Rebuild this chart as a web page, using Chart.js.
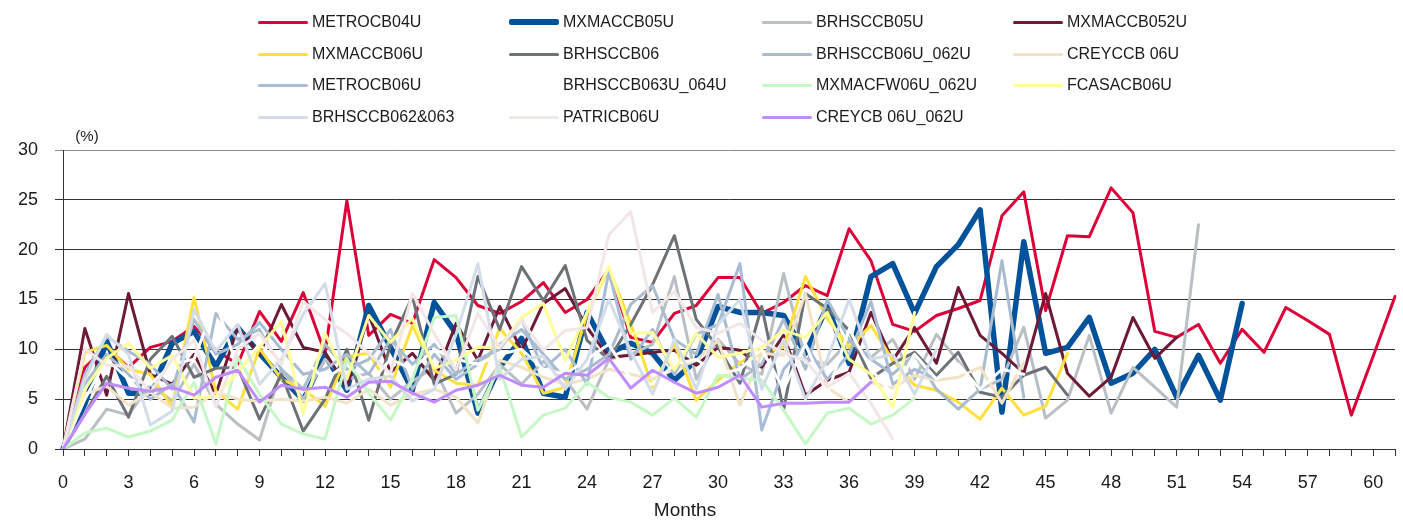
<!DOCTYPE html>
<html>
<head>
<meta charset="utf-8">
<script src="https://cdn.jsdelivr.net/npm/chart.js@4.4.1/dist/chart.umd.min.js"></script>
<style>
  html, body { margin: 0; padding: 0; background: #fff; }
  #wrap { position: relative; width: 1403px; height: 520px; }
  #legend {
    position: absolute; left: 0; top: 0; width: 1403px; height: 140px;
    font-family: 'Liberation Sans', Arial, sans-serif; font-size: 16px; color: #1a1a1a;
  }
  .item { position: absolute; height: 24px; display: flex; align-items: center; white-space: nowrap; }
  .swatch { width: 50px; margin-right: 4px; border-radius: 2px; }
</style>
</head>
<body>
<div id="wrap">
  <canvas id="chart" width="1403" height="520"></canvas>
  <div id="legend"></div>
</div>
<script>
'use strict';

// x categories (months since issue) and the ones that get a label
const months = [0, 1, 2, 3, 4, 5, 6, 7, 8, 9, 10, 11, 12, 13, 14, 15, 16, 17, 18, 19, 20,
  21, 22, 23, 24, 25, 26, 27, 28, 29, 30, 31, 32, 33, 34, 35, 36, 37, 38, 39, 40,
  41, 42, 43, 44, 45, 46, 47, 48, 49, 50, 51, 52, 53, 54, 55, 56, 57, 58, 59, 60, 61];
const labelledMonths = [0, 3, 6, 9, 12, 15, 18, 21, 24, 27, 30, 33, 36, 39, 42, 45, 48, 51, 54, 57, 60];
const yTicks = [0, 5, 10, 15, 20, 25, 30];
const unitLabel = '(%)';
const xTitle = 'Months';

// values in %, one per month starting at month 0
const metrocb04u = [0, 8.2, 10.2, 8.2, 10.2, 10.8, 12.3, 9.9, 8.5, 13.8, 10.8, 15.7, 9.6, 24.9, 11.4, 13.5,
  12.6, 19.0, 17.2, 14.4, 13.6, 14.8, 16.7, 13.7, 15.0, 18.0, 11.2, 10.7, 13.6, 14.4, 17.2, 17.2, 13.6,
  14.7, 16.4, 15.4, 22.1, 18.9, 12.5, 11.8, 13.4, 14.1, 14.9, 23.4, 25.8, 13.9, 21.4, 21.3, 26.2, 23.7,
  11.8, 11.2, 12.5, 8.6, 12.0, 9.7, 14.2, 12.9, 11.5, 3.4, 9.3, 15.3];
const mxmaccb05u = [0, 4.5, 10.8, 5.6, 5.6, 10.6, 11.8, 8.3, 12.2, 9.6, 7.2, 4.9, 9.4, 5.9, 14.4, 10.2,
  5.9, 14.7, 11.6, 3.6, 8.2, 11.1, 5.6, 5.2, 13.7, 9.6, 10.6, 9.6, 6.9, 8.9, 14.3, 13.7, 13.7, 13.4,
  9.6, 14.3, 8.6, 17.3, 18.6, 13.6, 18.3, 20.5, 24.0, 3.7, 20.8, 9.6, 10.2, 13.2, 6.6, 7.6, 10.0, 5.2,
  9.4, 4.9, 14.6];
const brhsccb05u = [0, 1.0, 4.0, 3.4, 6.5, 4.8, 8.5, 4.5, 2.5, 0.9, 8.0, 5.0, 9.0, 7.0, 7.6, 5.0, 6.8,
  8.2, 3.6, 5.5, 8.5, 6.5, 8.8, 7.0, 4.0, 9.0, 9.5, 10.5, 17.3, 7.0, 11.0, 8.5, 7.5, 17.6, 9.0, 8.5,
  10.8, 9.2, 11.0, 7.0, 11.5, 8.8, 6.0, 7.0, 12.2, 3.1, 4.9, 11.4, 3.6, 8.2, 6.2, 4.2, 22.5];
const mxmaccb052u = [0, 12.1, 5.4, 15.6, 7.5, 6.5, 9.5, 5.5, 12.2, 9.5, 14.5, 10.2, 9.7, 6.2, 13.5, 7.7,
  9.6, 6.9, 12.6, 8.9, 14.3, 9.9, 14.6, 16.1, 12.2, 9.2, 9.4, 9.7, 9.9, 8.4, 10.2, 9.9, 8.2, 11.4, 5.4,
  6.9, 7.7, 13.7, 8.9, 12.2, 8.6, 16.2, 11.4, 9.6, 7.6, 15.6, 7.6, 5.3, 7.2, 13.2, 9.1, 11.2];
const mxmaccb06u = [0, 9.7, 10.4, 8.0, 7.5, 4.2, 15.2, 5.8, 4.0, 10.1, 7.0, 6.0, 4.3, 9.3, 9.6, 6.2, 12.4,
  7.9, 6.6, 6.4, 12.1, 9.6, 5.6, 6.2, 13.6, 18.1, 12.6, 6.2, 10.6, 4.9, 6.9, 8.7, 9.6, 10.2, 17.3, 13.1,
  10.2, 12.4, 8.9, 6.4, 5.9, 4.7, 3.0, 6.1, 3.4, 4.3, 9.6];
const brhsccb06 = [0, 3.5, 7.3, 3.2, 9.0, 11.3, 7.2, 8.1, 8.2, 3.0, 7.5, 1.8, 5.0, 10.0, 2.9, 10.5, 15.3,
  6.5, 7.5, 17.3, 12.0, 18.3, 14.9, 18.4, 10.9, 9.0, 12.5, 16.5, 21.4, 13.0, 10.2, 6.6, 14.3, 3.9, 15.6,
  14.1, 11.9, 7.1, 8.6, 9.7, 7.4, 9.7, 5.7, 5.2, 7.4, 8.2, 5.4];
const brhsccb06u062u = [0, 6.5, 9.5, 7.5, 5.0, 6.5, 2.7, 13.6, 11.0, 12.0, 8.0, 6.0, 10.5, 8.0, 9.0, 12.0,
  6.0, 9.5, 7.0, 8.5, 10.5, 12.0, 9.5, 7.0, 8.0, 9.5, 14.5, 16.4, 11.0, 9.5, 15.5, 7.0, 8.5, 13.0, 8.0,
  15.0, 11.0, 9.0, 7.5, 9.5, 6.0, 4.0, 6.0, 18.9, 5.2];
const creyccb06u = [0, 5.5, 6.3, 4.4, 5.7, 4.1, 4.2, 5.7, 5.0, 4.8, 5.0, 4.8, 5.2, 4.6, 6.0, 4.4, 5.5, 6.0,
  5.2, 2.6, 8.9, 8.2, 7.2, 6.5, 7.0, 8.0, 7.5, 7.0, 8.0, 8.9, 10.9, 4.4, 9.6, 9.4, 15.6, 6.2, 4.7, 6.7,
  6.1, 7.4, 6.9, 7.2, 8.2, 4.6, 8.7];
const metrocb06u = [0, 7.5, 11.3, 9.8, 8.5, 6.0, 13.0, 9.5, 10.5, 12.7, 10.0, 7.5, 8.0, 9.5, 7.5, 11.0,
  8.5, 10.5, 7.5, 9.0, 10.0, 13.0, 8.0, 10.0, 6.5, 17.8, 9.0, 12.0, 7.5, 11.5, 12.5, 18.6, 1.9, 8.0,
  10.5, 7.0, 9.5, 14.8, 6.5, 8.0, 7.0];
const brhsccb063u064u = [0, 5.0, 9.0, 7.0, 6.5, 8.5, 9.0, 14.8, 8.0, 10.5, 8.5, 9.0, 7.0, 8.5, 6.5, 9.0,
  8.0, 10.0, 9.0, 8.5, 9.5, 10.0, 8.0, 7.5, 9.0, 10.5, 7.0, 6.5, 8.5, 9.0, 7.5, 8.0, 10.0, 6.0, 10.5,
  5.5, 12.0, 8.0, 5.5, 9.5, 7.0, 8.5, 6.0, 8.0, 7.5];
const mxmacfw06u062u = [0, 1.6, 2.1, 1.2, 1.8, 2.9, 6.7, 0.5, 9.2, 5.5, 2.5, 1.5, 1.0, 9.0, 5.6, 2.9, 7.0,
  13.2, 13.4, 3.9, 8.2, 1.2, 3.4, 4.1, 6.7, 5.2, 4.7, 3.4, 5.1, 3.2, 7.4, 7.1, 6.9, 3.9, 0.5, 3.6, 4.1,
  2.5, 3.4, 5.1];
const fcasacb06u = [0, 6.0, 9.1, 10.6, 8.1, 9.4, 5.1, 5.3, 7.7, 10.2, 12.8, 3.5, 11.6, 7.0, 13.4, 10.7,
  13.1, 8.1, 8.9, 10.2, 10.2, 13.2, 14.6, 8.9, 13.7, 18.3, 11.6, 11.7, 7.9, 11.6, 9.2, 9.6, 10.2, 11.9,
  11.2, 13.7, 9.0, 7.5, 4.2, 13.7];
const brhsccb062063 = [0, 7.0, 11.5, 9.5, 2.4, 3.8, 14.0, 9.8, 12.5, 6.5, 9.0, 13.5, 16.6, 6.0, 7.0, 7.3,
  4.8, 6.0, 11.5, 18.6, 7.0, 9.0, 9.3, 6.0, 9.0, 15.0, 9.8, 5.5, 11.0, 6.0, 12.5, 15.0, 6.0, 11.0, 5.0,
  9.0, 15.0, 9.0, 9.5, 5.5, 10.0];
const patricb06u = [0, 10.1, 8.4, 8.3, 5.7, 9.0, 10.9, 4.2, 10.0, 11.6, 8.5, 14.8, 13.0, 11.6, 9.6, 7.6,
  15.6, 11.6, 7.9, 13.6, 10.2, 12.9, 9.9, 11.9, 12.2, 21.5, 23.8, 13.7, 15.8, 12.2, 11.6, 12.6, 10.9,
  9.6, 8.9, 6.2, 7.6, 4.6, 1.0];
const creycb06u062u = [0, 3.5, 6.6, 6.1, 5.8, 6.2, 5.4, 7.2, 7.9, 4.7, 6.4, 6.0, 6.2, 5.2, 6.7, 6.8, 5.6,
  4.7, 5.9, 6.4, 7.4, 6.4, 6.2, 7.6, 7.4, 9.1, 6.1, 7.9, 6.7, 5.6, 6.2, 7.4, 4.2, 4.6, 4.6, 4.7, 4.7, 6.7];

const series = [
  { name: 'METROCB04U', data: metrocb04u, color: '#dc0039', width: 3 },
  { name: 'MXMACCB05U', data: mxmaccb05u, color: '#00529b', width: 5.5 },
  { name: 'BRHSCCB05U', data: brhsccb05u, color: '#b9bfc5', width: 3 },
  { name: 'MXMACCB052U', data: mxmaccb052u, color: '#6e1a37', width: 3 },
  { name: 'MXMACCB06U', data: mxmaccb06u, color: '#ffe03c', width: 3 },
  { name: 'BRHSCCB06', data: brhsccb06, color: '#6d7278', width: 3 },
  { name: 'BRHSCCB06U_062U', data: brhsccb06u062u, color: '#a9bccf', width: 3 },
  { name: 'CREYCCB 06U', data: creyccb06u, color: '#f2e3c6', width: 3 },
  { name: 'METROCB06U', data: metrocb06u, color: '#a8bcd6', width: 3 },
  { name: 'BRHSCCB063U_064U', data: brhsccb063u064u, color: '#ffffff', width: 3 },
  { name: 'MXMACFW06U_062U', data: mxmacfw06u062u, color: '#c6f8c6', width: 3 },
  { name: 'FCASACB06U', data: fcasacb06u, color: '#ffff99', width: 3 },
  { name: 'BRHSCCB062&063', data: brhsccb062063, color: '#d2dde9', width: 3 },
  { name: 'PATRICB06U', data: patricb06u, color: '#f3e6e6', width: 3 },
  { name: 'CREYCB 06U_062U', data: creycb06u062u, color: '#c08cff', width: 3 }
];

const FONT = "'Liberation Sans', Arial, sans-serif";

// legend: 4 fixed columns like the original
const legendCols = [258, 509, 762, 1013];
const legendRows = [22, 54, 85, 117];
const legendEl = document.getElementById('legend');
series.forEach((s, i) => {
  const item = document.createElement('div');
  item.className = 'item';
  item.style.left = `${legendCols[i % 4]}px`;
  item.style.top = `${legendRows[Math.floor(i / 4)] - 12}px`;
  const sw = document.createElement('span');
  sw.className = 'swatch';
  sw.style.height = `${s.width}px`;
  sw.style.background = s.color;
  const txt = document.createElement('span');
  txt.textContent = s.name;
  item.appendChild(sw);
  item.appendChild(txt);
  legendEl.appendChild(item);
});

const axisText = {
  id: 'axisText',
  afterDraw(chart) {
    const { ctx } = chart;
    ctx.save();
    ctx.fillStyle = '#1a1a1a';
    ctx.textAlign = 'center';
    ctx.textBaseline = 'middle';
    ctx.font = `15px ${FONT}`;
    ctx.fillText(unitLabel, 87, 137);
    ctx.font = `19px ${FONT}`;
    ctx.fillText(xTitle, 685, 511);
    ctx.restore();
  }
};

// eslint-disable-next-line no-new
new Chart(document.getElementById('chart'), {
  type: 'line',
  data: {
    labels: months.map(String),
    datasets: series.map((s, i) => ({
      label: s.name,
      data: s.data,
      borderColor: s.color,
      backgroundColor: s.color,
      borderWidth: s.width,
      pointRadius: 0,
      tension: 0,
      fill: false,
      borderJoinStyle: 'round',
      borderCapStyle: 'round',
      order: -i
    }))
  },
  options: {
    responsive: false,
    animation: false,
    layout: { padding: { top: 150, right: 0, left: 0, bottom: 0 } },
    plugins: {
      legend: { display: false },
      tooltip: { enabled: false }
    },
    scales: {
      x: {
        type: 'category',
        offset: false,
        grid: {
          drawOnChartArea: false,
          drawTicks: true,
          tickLength: 7,
          color: '#333'
        },
        border: { display: true, color: '#333', width: 1 },
        ticks: {
          autoSkip: false,
          maxRotation: 0,
          minRotation: 0,
          padding: 16,
          color: '#1a1a1a',
          font: { family: FONT, size: 18 },
          callback(value, index) {
            const m = months[index];
            return labelledMonths.includes(m) ? String(m) : '';
          }
        },
        afterFit(scale) {
          scale.height = 71;
          // tick padding would otherwise be added to the right edge
          scale.paddingLeft = 0;
          scale.paddingRight = 8;
        }
      },
      y: {
        min: 0,
        max: 30,
        afterBuildTicks(scale) {
          scale.ticks = yTicks.map((v) => ({ value: v }));
        },
        grid: {
          tickLength: 8,
          color: (ctx) => (ctx.tick && ctx.tick.value === 30 ? '#8a8a8a' : '#333')
        },
        border: { display: true, color: '#333', width: 1 },
        ticks: {
          padding: 17,
          color: '#1a1a1a',
          font: { family: FONT, size: 18 }
        },
        afterFit(scale) {
          scale.width = 63;
        }
      }
    }
  },
  plugins: [axisText]
});
</script>
</body>
</html>
